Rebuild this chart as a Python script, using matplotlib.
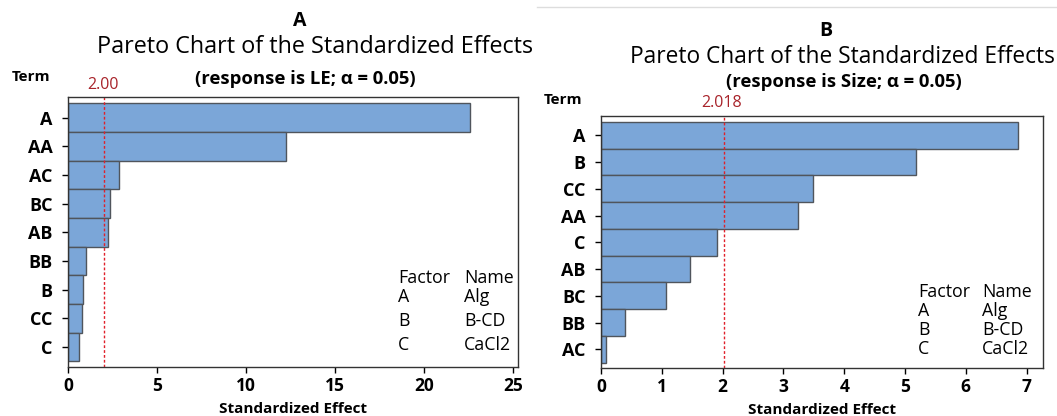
import matplotlib.pyplot as plt
from matplotlib.lines import Line2D

plt.rcParams['font.family'] = ['Open Sans', 'DejaVu Sans']

# Panel A data (response is LE)
terms_a = ['A', 'AA', 'AC', 'BC', 'AB', 'BB', 'B', 'CC', 'C']
effects_a = [22.57, 12.24, 2.86, 2.36, 2.23, 1.03, 0.82, 0.77, 0.63]
crit_a = 2.00

# Panel B data (response is Size)
terms_b = ['A', 'B', 'CC', 'AA', 'C', 'AB', 'BC', 'BB', 'AC']
effects_b = [6.86, 5.18, 3.49, 3.24, 1.90, 1.47, 1.07, 0.39, 0.08]
crit_b = 2.018

factors = ['A', 'B', 'C']
names = ['Alg', 'B-CD', 'CaCl2']

W, H = 1057, 416
fig = plt.figure(figsize=(W / 100, H / 100), dpi=100)


def fx(px):
    return px / W


def fy(py):
    return 1 - py / H


bar_color = '#7BA6D8'
edge_color = '#50555c'
red = '#A8232A'


def pareto(ax, terms, effects, crit, xmax, xticks):
    ax.barh(range(len(terms)), effects, height=1.0, color=bar_color,
            edgecolor=edge_color, linewidth=1.0)
    ax.axvline(crit, color='#E0202A', linestyle=(0, (2, 1.5)), linewidth=1.0)
    ax.set_ylim(len(terms) - 0.3, -0.72)
    ax.set_xlim(0, xmax)
    ax.set_yticks(range(len(terms)))
    ax.set_yticklabels(terms, fontsize=13, fontweight='bold')
    ax.set_xticks(xticks)
    ax.tick_params(axis='x', labelsize=12.5, length=4, width=1)
    ax.tick_params(axis='y', length=4, width=1, pad=7)
    for lab in ax.get_xticklabels():
        lab.set_fontweight('bold')
    for s in ax.spines.values():
        s.set_color('#333333')
        s.set_linewidth(1.0)
    ax.set_xlabel('Standardized Effect', fontsize=11, fontweight='bold', labelpad=5)


# Left panel
ax1 = fig.add_axes([fx(68), fy(367), fx(518) - fx(68), fy(97) - fy(367)])
pareto(ax1, terms_a, effects_a, crit_a, 25.27, [0, 5, 10, 15, 20, 25])

fig.text(fx(300), fy(21), 'A', ha='center', va='center', fontsize=14, fontweight='bold')
fig.text(fx(315), fy(47), 'Pareto Chart of the Standardized Effects', ha='center',
         va='center', fontsize=16.8)
fig.text(fx(305), fy(79), '(response is LE; \u03b1 = 0.05)', ha='center', va='center',
         fontsize=13.3, fontweight='bold')
fig.text(fx(31), fy(77), 'Term', ha='center', va='center', fontsize=11, fontweight='bold')
fig.text(fx(103), fy(85), '2.00', ha='center', va='center', fontsize=11.5, color=red)

rows_a = [278, 297, 321, 345]
fig.text(fx(398), fy(rows_a[0]), 'Factor', va='center', fontsize=12.8)
fig.text(fx(464), fy(rows_a[0]), 'Name', va='center', fontsize=12.8)
for y, f, n in zip(rows_a[1:], factors, names):
    fig.text(fx(398), fy(y), f, va='center', fontsize=12.8)
    fig.text(fx(464), fy(y), n, va='center', fontsize=12.8)

# Right panel
ax2 = fig.add_axes([fx(601), fy(368), fx(1043) - fx(601), fy(116) - fy(368)])
pareto(ax2, terms_b, effects_b, crit_b, 7.27, [0, 1, 2, 3, 4, 5, 6, 7])

fig.text(fx(826), fy(31), 'B', ha='center', va='center', fontsize=14, fontweight='bold')
fig.text(fx(842), fy(57), 'Pareto Chart of the Standardized Effects', ha='center',
         va='center', fontsize=16.4)
fig.text(fx(844), fy(82), '(response is Size; \u03b1 = 0.05)', ha='center', va='center',
         fontsize=13.3, fontweight='bold')
fig.text(fx(563), fy(100), 'Term', ha='center', va='center', fontsize=11, fontweight='bold')
fig.text(fx(722), fy(103), '2.018', ha='center', va='center', fontsize=11.5, color=red)

rows_b = [292, 311, 330, 349]
fig.text(fx(918), fy(rows_b[0]), 'Factor', va='center', fontsize=12.8)
fig.text(fx(982), fy(rows_b[0]), 'Name', va='center', fontsize=12.8)
for y, f, n in zip(rows_b[1:], factors, names):
    fig.text(fx(918), fy(y), f, va='center', fontsize=12.8)
    fig.text(fx(982), fy(y), n, va='center', fontsize=12.8)

# thin separator line at the top of panel B
fig.add_artist(Line2D([fx(537), 1], [fy(7), fy(7)], color='#dddddd', linewidth=1))

fig.savefig('out.png', dpi=100)
